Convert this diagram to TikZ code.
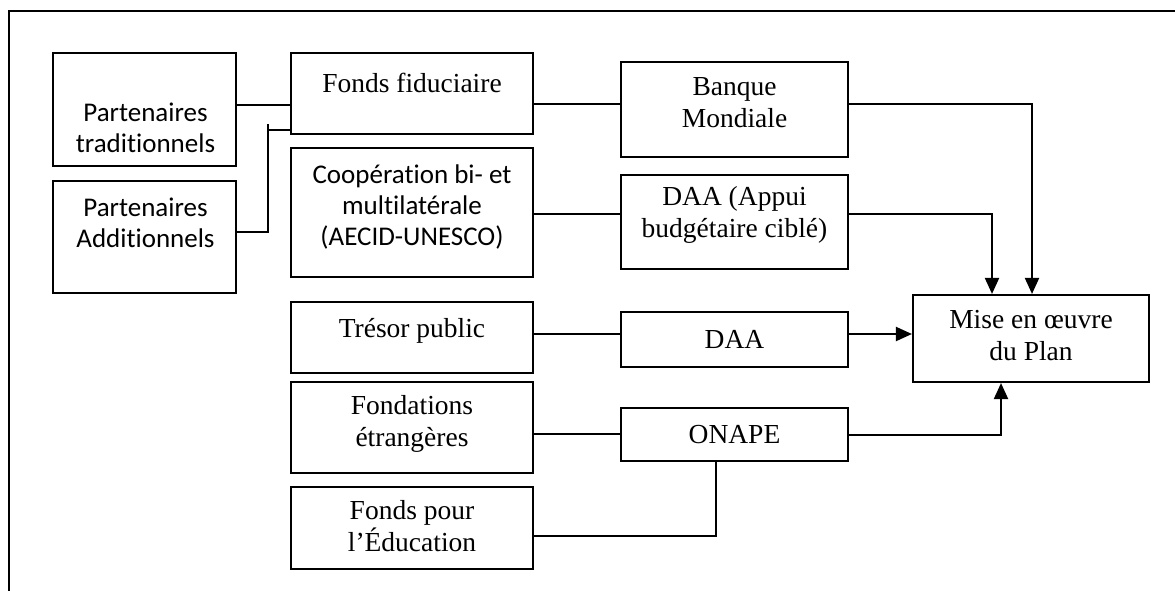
\documentclass[tikz,border=0pt]{standalone}
\usepackage{fontspec}
\setmainfont{Liberation Serif}
\newfontfamily\calibri[Ligatures=NoCommon]{Carlito}
\usetikzlibrary{arrows.meta,positioning,calc}

\begin{document}
\begin{tikzpicture}[
    x=1pt, y=-1pt,
    box/.style={
        rectangle, draw=black, line width=2.1pt,
        inner sep=0pt, align=center
    },
    sansbox/.style={
        box, font=\calibri\fontsize{27}{31}\selectfont
    },
    serifbox/.style={
        box, font=\fontsize{27.5}{32}\selectfont
    },
    link/.style={
        line width=2pt, color=black
    },
    arrow/.style={
        link, -{Triangle[length=16pt,width=14pt]}
    }
]

% Frame
\useasboundingbox (0,0) rectangle (1175,591);
\draw[line width=2.6pt] (9,600) -- (9,11) -- (1180,11);

% Nodes
\node[box, minimum width=183pt, minimum height=113pt] (pt) at (144.5,109.5) {};
\node[box, minimum width=183pt, minimum height=112pt] (pa) at (144.5,237) {};
\node[box, minimum width=242pt, minimum height=81pt] (ff) at (412,93.5) {};
\node[box, minimum width=242pt, minimum height=129pt] (coop) at (412,212.5) {};
\node[box, minimum width=242pt, minimum height=71pt] (tp) at (412,337.5) {};
\node[box, minimum width=242pt, minimum height=91pt] (fe) at (412,427.5) {};
\node[box, minimum width=242pt, minimum height=82pt] (fpe) at (412,528) {};
\node[box, minimum width=227pt, minimum height=95pt] (bm) at (734.5,109.5) {};
\node[box, minimum width=227pt, minimum height=94pt] (daac) at (734.5,222) {};
\node[box, minimum width=227pt, minimum height=55pt] (daa) at (734.5,339.5) {};
\node[box, minimum width=227pt, minimum height=53pt] (onape) at (734.5,434.5) {};
\node[box, minimum width=236pt, minimum height=87pt] (mise) at (1031,338.5) {};

% Labels
\node[sansbox, draw=none] (pt-t) at ($(pt)+(1,18)$) {Partenaires\\traditionnels};
\node[sansbox, draw=none] (pa-t) at ($(pa)+(1,-14)$) {Partenaires\\Additionnels};
\node[serifbox, draw=none] (ff-t) at ($(ff)+(0,-11)$) {Fonds fiduciaire};
\node[sansbox, draw=none] (coop-t) at ($(coop)+(0,-6)$) {Coopération bi- et\\multilatérale\\(AECID-UNESCO)};
\node[serifbox, draw=none] (tp-t) at ($(tp)+(0,-7)$) {Trésor public};
\node[serifbox, draw=none] (fe-t) at ($(fe)+(0,-4)$) {Fondations\\étrangères};
\node[serifbox, draw=none] (fpe-t) at ($(fpe)+(0,-2)$) {Fonds pour\\l’Éducation};
\node[serifbox, draw=none] (bm-t) at ($(bm)+(0,-7)$) {Banque\\Mondiale};
\node[serifbox, draw=none] (daac-t) at ($(daac)+(0,-7)$) {DAA (Appui\\budgétaire ciblé)};
\node[serifbox, draw=none] (daa-t) at (daa) {DAA};
\node[serifbox, draw=none] (onape-t) at (onape) {ONAPE};
\node[serifbox, draw=none] (mise-t) at ($(mise)+(0,-3)$) {Mise en œuvre\\du Plan};

% Links
\coordinate (jn) at (268,130);
\draw[link] (pt.east |- 0,105) -- (ff.west |- 0,105);
\draw[link] (pa.east |- 0,232) -| ([yshift=6pt]jn);
\draw[link] (jn) -- (jn -| ff.west);
\draw[link] (ff.east |- 0,104) -- (bm.west |- 0,104);
\draw[link] (coop.east |- 0,214) -- (daac.west |- 0,214);
\draw[link] (tp.east |- 0,334) -- (daa.west |- 0,334);
\draw[link] (fe.east |- 0,434) -- (onape.west |- 0,434);
\draw[link] (fpe.east |- 0,536) -| ([xshift=-18.5pt]onape.south);

% Arrows
\draw[arrow] (bm.east |- 0,104) -| ([xshift=1pt]mise.north);
\draw[arrow] (daac.east |- 0,214) -| ([xshift=-39pt]mise.north);
\draw[arrow] (daa.east |- 0,334) -- (mise.west |- 0,334);
\draw[arrow] (onape.east |- 0,435) -| ([xshift=-30pt]mise.south);

\end{tikzpicture}
\end{document}
